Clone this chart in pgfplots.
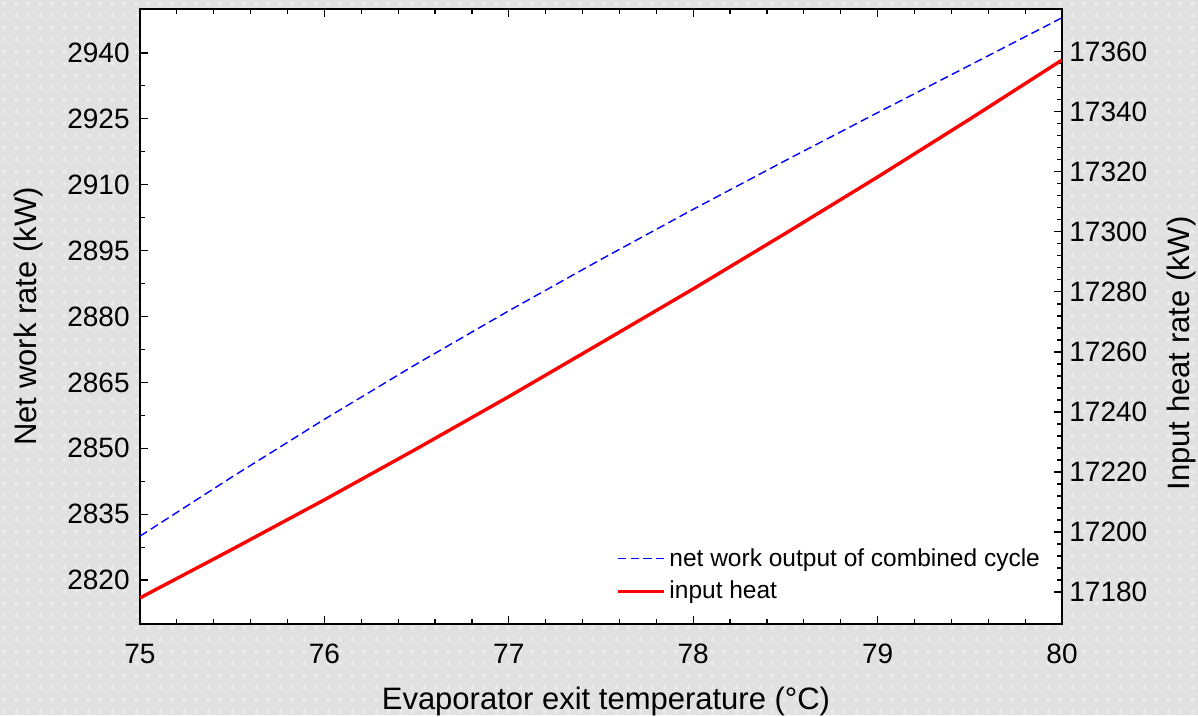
\documentclass[border=0pt]{standalone}
\usepackage{pgfplots}
\pgfplotsset{compat=1.18}
\usepackage{fontspec}
\setmainfont{Liberation Sans}
\usetikzlibrary{patterns.meta}
\definecolor{bgbase}{RGB}{225,225,225}
\definecolor{bgdot}{RGB}{235,235,235}
\tikzdeclarepattern{
  name=bgdots,
  bounding box={(0pt,0pt) and (6pt,6pt)},
  tile size={(6pt,6pt)},
  code={\pgfpathrectangle{\pgfqpoint{2pt}{2pt}}{\pgfqpoint{2pt}{2pt}}\pgfusepath{fill}}
}
\pgfplotsset{
  common/.style={
    width=461pt, height=307.5pt, scale only axis,
    at={(0,0)}, anchor=south west,
    xmin=75, xmax=80,
    scaled x ticks=false, scaled y ticks=false,
    /pgf/number format/1000 sep={},
    /pgf/number format/assume math mode=true,
    tick label style={font=\fontsize{14}{16}\selectfont, inner sep=0pt},
    label style={font=\fontsize{15.5}{18}\selectfont, inner sep=0pt},
    major tick length=4pt, minor tick length=2.6pt,
    every tick/.style={black, line width=0.6pt},
    axis line style={line width=1pt},
  }
}
\begin{document}
\begin{tikzpicture}
\fill[bgbase] (-70pt,-45.5pt) rectangle (529pt,312pt);
\fill[pattern=bgdots, pattern color=bgdot] (-70pt,-45.5pt) rectangle (529pt,312pt);
\begin{axis}[common,
  axis background/.style={fill=white},
  xtick={75,76,77,78,79,80}, minor x tick num=4,
  ytick pos=left,
  ymin=2810, ymax=2950,
  ytick={2820,2835,2850,2865,2880,2895,2910,2925,2940}, minor y tick num=1,
  xticklabel shift=10pt, yticklabel shift=5pt,
  xlabel={Evaporator exit temperature (°C)},
  xlabel style={at={(axis description cs:0.5054,-0.1024)}, anchor=north},
  ylabel={Net work rate (kW)},
  ylabel style={at={(axis description cs:-0.1052,0.5)}, anchor=south},
]
\addplot[blue, line width=0.7pt, dash pattern=on 4.2pt off 2.2pt] coordinates {
 (75,2830.0) (75.5,2843.5) (76,2856.6) (76.5,2869.2) (77,2881.3) (77.5,2893.0)
 (78,2904.4) (78.5,2915.5) (79,2926.4) (79.5,2937.2) (80,2948.0)};
\end{axis}
\begin{axis}[common,
  axis x line=none, axis y line*=right,
  ymin=17169.3, ymax=17374.3,
  ytick={17180,17200,17220,17240,17260,17280,17300,17320,17340,17360}, minor y tick num=4,
  yticklabel shift=3.5pt,
  ylabel={Input heat rate (kW)},
  ylabel style={at={(axis description cs:1.1139,0.44)}, anchor=north},
  legend style={at={(axis description cs:0.976,0.036)}, anchor=south east,
    draw=none, fill=none, inner sep=0pt, outer sep=0pt,
    font=\fontsize{12.25}{14}\selectfont, row sep=6pt, column sep=2pt,
    nodes={inner sep=0pt}},
  legend cell align=left,
  legend image code/.code={\draw[#1] (0pt,0pt) -- (23pt,0pt);},
]
\addlegendimage{blue, line width=0.7pt, dash pattern=on 4.2pt off 2.2pt}
\addlegendentry{net work output of combined cycle}
\addplot[red, line width=1.7pt] coordinates {
 (75,17178.0) (75.5,17194.2) (76,17210.7) (76.5,17227.7) (77,17245.1) (77.5,17263.0)
 (78,17281.0) (78.5,17299.5) (79,17318.3) (79.5,17337.6) (80,17357.3)};
\addlegendentry{input heat}
\end{axis}
\end{tikzpicture}
\end{document}
